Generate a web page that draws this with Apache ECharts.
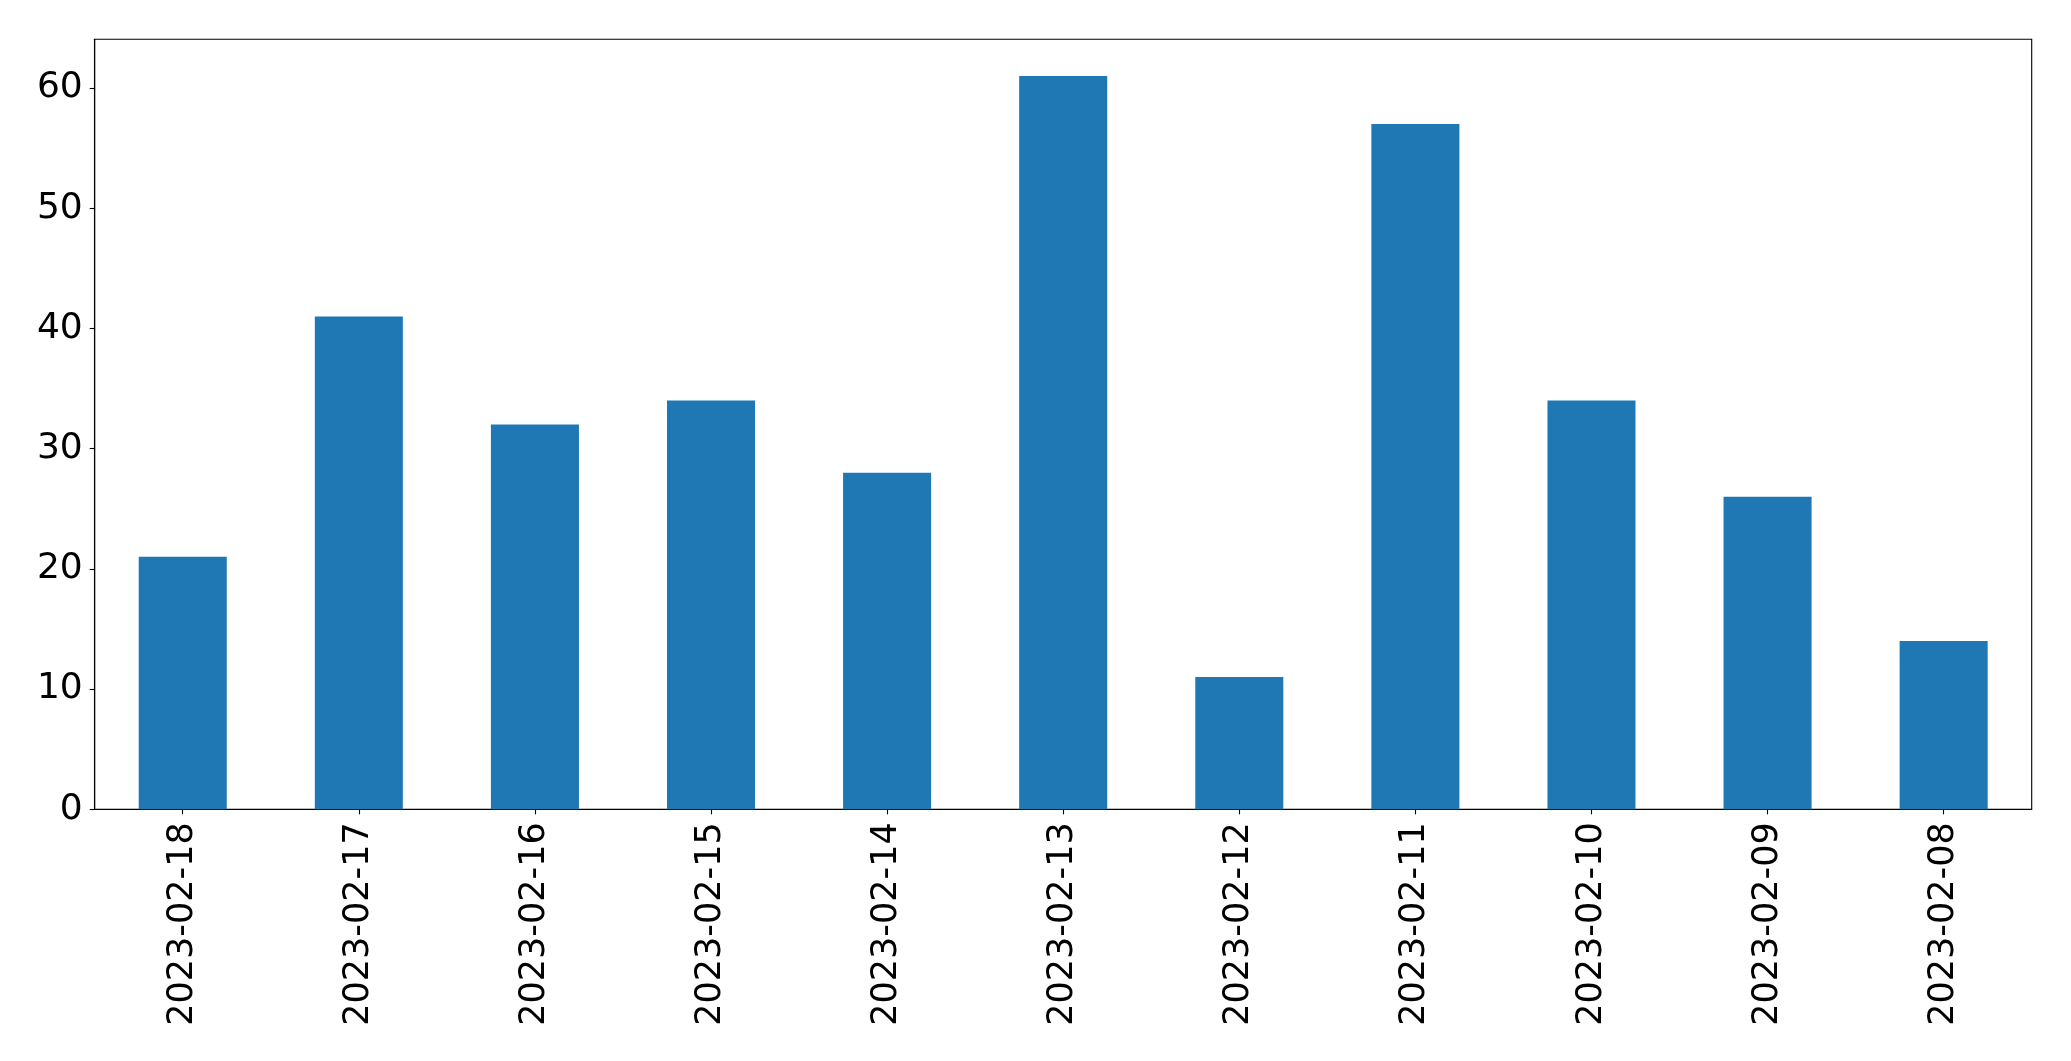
<!DOCTYPE html>
<html>
<head>
<meta charset="utf-8">
<script src="https://cdn.jsdelivr.net/npm/echarts@6/dist/echarts.min.js"></script>
<style>
html,body{margin:0;padding:0;background:#fff;}
#chart{width:2071px;height:1061px;}
</style>
</head>
<body>
<div id="chart"></div>
<script>
const categories = ["2023-02-18","2023-02-17","2023-02-16","2023-02-15","2023-02-14","2023-02-13","2023-02-12","2023-02-11","2023-02-10","2023-02-09","2023-02-08"];
const values = [21, 41, 32, 34, 28, 61, 11, 57, 34, 26, 14];
const yTicks = [0, 10, 20, 30, 40, 50, 60];

const chart = echarts.init(document.getElementById('chart'), null, {renderer: 'canvas'});
const font = '"DejaVu Sans", sans-serif';
chart.setOption({
  animation: false,
  backgroundColor: '#ffffff',
  grid: {
    left: 94.7, right: 39.3, top: 39.3, bottom: 251.7,
    show: true, borderColor: '#000', borderWidth: 1.1, backgroundColor: 'transparent'
  },
  xAxis: {
    type: 'category',
    data: categories,
    boundaryGap: true,
    axisLine: {show: true, lineStyle: {color: '#000', width: 1.1}},
    axisTick: {show: true, alignWithLabel: true, length: 5, lineStyle: {color: '#000', width: 1.1}},
    axisLabel: {rotate: 90, margin: 13, color: '#000', fontSize: 35, fontFamily: font, interval: 0},
    splitLine: {show: false}
  },
  yAxis: {
    type: 'value',
    min: 0,
    max: 64.05,
    interval: 10,
    axisLine: {show: true, lineStyle: {color: '#000', width: 1.1}},
    axisTick: {show: true, length: 5, customValues: yTicks, lineStyle: {color: '#000', width: 1.1}},
    axisLabel: {margin: 12, color: '#000', fontSize: 36, fontFamily: font, customValues: yTicks},
    splitLine: {show: false}
  },
  series: [{
    type: 'bar',
    data: values,
    barWidth: '50%',
    itemStyle: {color: '#1f77b4'}
  }]
});
</script>
</body>
</html>
